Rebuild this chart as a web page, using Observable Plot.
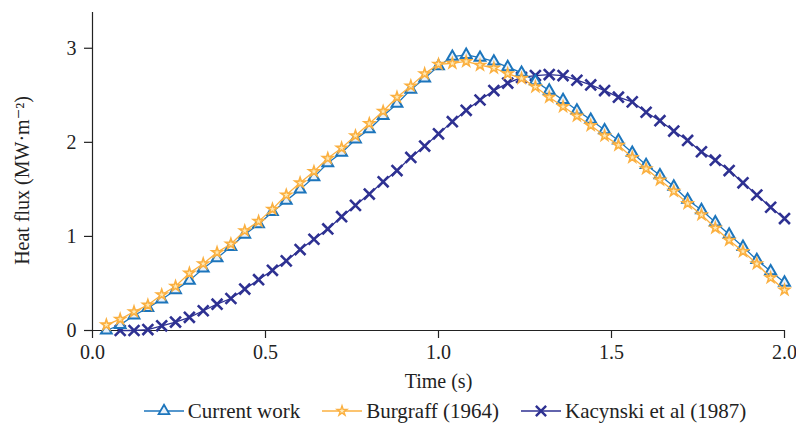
<!DOCTYPE html>
<html>
<head>
<meta charset="utf-8">
<script src="https://cdn.jsdelivr.net/npm/d3@7"></script>
<script src="https://cdn.jsdelivr.net/npm/@observablehq/plot@0.6"></script>
<style>
  html, body { margin: 0; padding: 0; background: #fff; }
  #chart { width: 796px; }
  .legend { display: flex; justify-content: center; align-items: center; gap: 22px;
    font-family: "Liberation Serif", "DejaVu Serif", serif; font-size: 21px; color: #222;
    height: 38px; margin-left: 94px; }
  .legend .item { display: flex; align-items: center; }
  .legend svg { display: block; margin-right: 4px; }
</style>
</head>
<body>
<div id="chart"></div>
<script>
// Time values (s)
const time = [0.04,0.08,0.12,0.16,0.20,0.24,0.28,0.32,0.36,0.40,0.44,0.48,0.52,0.56,0.60,0.64,0.68,0.72,0.76,0.80,
  0.84,0.88,0.92,0.96,1.00,1.04,1.08,1.12,1.16,1.20,1.24,1.28,1.32,1.36,1.40,1.44,1.48,1.52,1.56,1.60,
  1.64,1.68,1.72,1.76,1.80,1.84,1.88,1.92,1.96,2.00];
// Heat flux (MW·m^-2)
const currentWork = [0.00,0.06,0.16,0.24,0.33,0.43,0.53,0.66,0.77,0.89,1.02,1.13,1.26,1.38,1.50,1.63,1.78,1.89,2.03,2.14,
  2.28,2.41,2.56,2.68,2.81,2.91,2.93,2.90,2.86,2.80,2.74,2.65,2.55,2.45,2.34,2.24,2.13,2.02,1.89,1.76,
  1.65,1.53,1.39,1.28,1.15,1.02,0.89,0.75,0.63,0.51];
const burgraff = [0.06,0.12,0.20,0.27,0.38,0.47,0.61,0.71,0.83,0.92,1.06,1.16,1.29,1.44,1.57,1.69,1.83,1.94,2.07,2.20,
  2.33,2.48,2.60,2.73,2.83,2.84,2.86,2.82,2.79,2.73,2.68,2.59,2.48,2.38,2.28,2.18,2.07,1.97,1.84,1.72,
  1.60,1.48,1.35,1.23,1.09,0.96,0.84,0.71,0.56,0.43];
const kacynskiTime = [0.08,0.12,0.16,0.20,0.24,0.28,0.32,0.36,0.40,0.44,0.48,0.52,0.56,0.60,0.64,0.68,0.72,0.76,0.80,
  0.84,0.88,0.92,0.96,1.00,1.04,1.08,1.12,1.16,1.20,1.24,1.28,1.32,1.36,1.40,1.44,1.48,1.52,1.56,1.60,
  1.64,1.68,1.72,1.76,1.80,1.84,1.88,1.92,1.96,2.00];
const kacynski = [0.00,0.00,0.01,0.05,0.09,0.14,0.21,0.28,0.34,0.44,0.54,0.64,0.74,0.86,0.97,1.08,1.21,1.33,1.45,
  1.58,1.70,1.84,1.96,2.09,2.22,2.34,2.45,2.55,2.63,2.69,2.71,2.72,2.71,2.66,2.61,2.55,2.48,2.43,2.32,
  2.23,2.12,2.02,1.90,1.81,1.70,1.57,1.44,1.31,1.19];

const xTicks = [0, 0.5, 1.0, 1.5, 2.0];
const yTicks = [0, 1, 2, 3];
const xLabel = "Time (s)";
const yLabel = "Heat flux (MW·m⁻²)";
const seriesNames = ["Current work", "Burgraff (1964)", "Kacynski et al (1987)"];

const cwData = time.map((t, i) => ({t, v: currentWork[i]}));
const bgData = time.map((t, i) => ({t, v: burgraff[i]}));
const kcData = kacynskiTime.map((t, i) => ({t, v: kacynski[i]}));

const BLUE = "#1c75bc", ORANGE = "#fbb040", NAVY = "#2e3192";
const FONT = "Liberation Serif, DejaVu Serif, serif";

const chart = Plot.plot({
  width: 796, height: 392,
  marginLeft: 92, marginRight: 12, marginTop: 12, marginBottom: 62,
  style: {fontFamily: FONT, fontSize: "20px", color: "#222", background: "#fff"},
  x: {domain: [0, 2]},
  y: {domain: [0, 3.38]},
  marks: [
    Plot.axisX({ticks: xTicks, tickFormat: d3.format(".1f"), tickSize: 8, tickPadding: 6,
      label: xLabel, labelAnchor: "center", labelArrow: "none", labelOffset: 57, stroke: "#222", strokeWidth: 1.2}),
    Plot.axisY({ticks: yTicks, tickFormat: d3.format("d"), tickSize: 8, tickPadding: 8,
      label: null, stroke: "#222", strokeWidth: 1.2}),
    Plot.text([yLabel], {frameAnchor: "left", textAnchor: "middle", rotate: -90, dx: -70, dy: 9, fontSize: 20, fill: "#222"}),
    Plot.ruleY([0], {stroke: "#222", strokeWidth: 1.2}),
    Plot.ruleX([0], {stroke: "#222", strokeWidth: 1.2}),
    Plot.line(kcData, {x: "t", y: "v", stroke: NAVY, strokeWidth: 1.3}),
    Plot.dot(kcData, {x: "t", y: "v", symbol: "times", r: 5, stroke: NAVY, strokeWidth: 2.6}),
    Plot.line(cwData, {x: "t", y: "v", stroke: BLUE, strokeWidth: 1.3}),
    Plot.dot(cwData, {x: "t", y: "v", symbol: "triangle", r: 4, fill: "#e8f1fa", stroke: BLUE, strokeWidth: 2}),
    Plot.line(bgData, {x: "t", y: "v", stroke: ORANGE, strokeWidth: 1.3}),
    Plot.dot(bgData, {x: "t", y: "v", symbol: "star", r: 3.3, fill: "#fde9b8", stroke: ORANGE, strokeWidth: 1.6})
  ]
});
document.getElementById("chart").appendChild(chart);

// Legend
const legendSpec = [
  {name: seriesNames[0], color: BLUE, symbol: d3.symbolTriangle, size: 50, fill: "#e8f1fa", sw: 1.8},
  {name: seriesNames[1], color: ORANGE, symbol: d3.symbolStar, size: 30, fill: "#fde9b8", sw: 1.4},
  {name: seriesNames[2], color: NAVY, symbol: d3.symbolTimes, size: 70, fill: "none", sw: 2.4}
];
const legend = d3.select("body").append("div").attr("class", "legend");
legendSpec.forEach(s => {
  const item = legend.append("div").attr("class", "item");
  const svg = item.append("svg").attr("width", 40).attr("height", 16);
  svg.append("line").attr("x1", 0).attr("x2", 40).attr("y1", 8).attr("y2", 8)
    .attr("stroke", s.color).attr("stroke-width", 1.5);
  svg.append("path").attr("d", d3.symbol(s.symbol, s.size)()).attr("transform", "translate(20,8)")
    .attr("fill", s.fill).attr("stroke", s.color).attr("stroke-width", s.sw);
  item.append("span").text(s.name);
});
</script>
</body>
</html>
